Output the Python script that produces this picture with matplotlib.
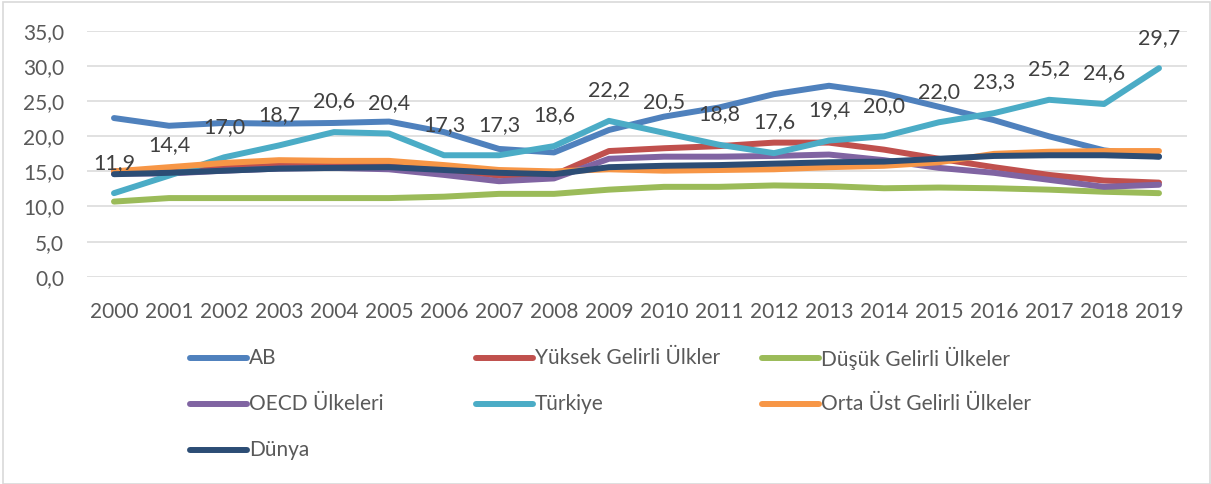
import matplotlib.pyplot as plt
from matplotlib.lines import Line2D
from matplotlib.patches import Rectangle

years = [str(y) for y in range(2000, 2020)]

ab = [22.6, 21.5, 21.9, 21.8, 21.9, 22.1, 20.6, 18.2, 17.7, 20.9,
      22.8, 24.1, 26.0, 27.2, 26.1, 24.2, 22.3, 20.0, 18.0, 17.1]
yuksek = [15.0, 15.3, 15.6, 15.8, 15.9, 15.9, 15.2, 14.4, 14.5, 17.9,
          18.3, 18.6, 19.1, 19.1, 18.1, 16.8, 15.6, 14.5, 13.7, 13.4]
dusuk = [10.7, 11.2, 11.2, 11.2, 11.2, 11.2, 11.4, 11.8, 11.8, 12.4,
         12.8, 12.8, 13.0, 12.9, 12.6, 12.7, 12.6, 12.4, 12.1, 11.9]
oecd = [14.7, 14.7, 15.1, 15.4, 15.5, 15.3, 14.5, 13.6, 14.0, 16.8,
        17.1, 17.1, 17.2, 17.4, 16.6, 15.5, 14.8, 13.8, 12.8, 13.1]
turkiye = [11.9, 14.4, 17.0, 18.7, 20.6, 20.4, 17.3, 17.3, 18.6, 22.2,
           20.5, 18.8, 17.6, 19.4, 20.0, 22.0, 23.3, 25.2, 24.6, 29.7]
orta = [15.0, 15.6, 16.2, 16.6, 16.5, 16.5, 15.9, 15.2, 15.0, 15.3,
        15.1, 15.2, 15.3, 15.6, 15.8, 16.3, 17.5, 17.8, 17.9, 17.9]
dunya = [14.6, 14.8, 15.1, 15.4, 15.5, 15.6, 15.2, 14.8, 14.6, 15.6,
         15.8, 15.9, 16.1, 16.3, 16.4, 16.8, 17.2, 17.3, 17.3, 17.1]

names = ["AB", "Yüksek Gelirli Ülkler", "Düşük Gelirli Ülkeler",
         "OECD Ülkeleri", "Türkiye", "Orta Üst Gelirli Ülkeler", "Dünya"]
series = [ab, yuksek, dusuk, oecd, turkiye, orta, dunya]
colors = ["#4F81BD", "#C0504D", "#9BBB59", "#8064A2", "#4BACC6", "#F79646", "#2C4D75"]

plt.rcParams['font.family'] = ['Lato', 'DejaVu Sans']

W, H = 1211, 484
fig = plt.figure(figsize=(W / 100, H / 100), dpi=100)
ax = fig.add_axes([86.5 / W, 1 - 276.7 / H, 1100 / W, 245.7 / H])

x = list(range(len(years)))
for name, vals, c in zip(names, series, colors):
    ax.plot(x, vals, color=c, lw=4.3, solid_capstyle='round', solid_joinstyle='round', label=name)

# data labels for Türkiye
for xi, v in zip(x, turkiye):
    ax.annotate(f"{v:.1f}".replace('.', ','), (xi, v), xytext=(0, 22),
                textcoords='offset points', ha='center', va='center',
                fontsize=15.5, color='#404040')

ax.set_xlim(-0.5, len(years) - 0.5)
ax.set_ylim(0, 35)
ax.set_yticks(range(0, 36, 5))
ax.set_yticklabels([f"{v},0" for v in range(0, 36, 5)])
ax.set_xticks(x)
ax.set_xticklabels(years)
ax.grid(axis='y', color='#D9D9D9', lw=1.1)
ax.set_axisbelow(True)
for s in ax.spines.values():
    s.set_visible(False)
ax.tick_params(length=0, labelsize=15, labelcolor='#595959')
ax.tick_params(axis='x', pad=18)
ax.tick_params(axis='y', pad=16)

# legend, laid out like the original (3 columns)
for i, (name, c) in enumerate(zip(names, colors)):
    col, row = i % 3, i // 3
    x0 = 190 + col * 286
    y0 = 358 + row * 46
    fig.add_artist(Line2D([x0 / W, (x0 + 57) / W], [1 - y0 / H, 1 - y0 / H],
                          color=c, lw=4.3, solid_capstyle='round'))
    fig.text((x0 + 59) / W, 1 - y0 / H, name, ha='left', va='center',
             fontsize=15, color='#595959')

fig.add_artist(Rectangle((3 / W, 0), 1 - 4 / W, 1 - 2 / H, transform=fig.transFigure,
                         fill=False, edgecolor='#D9D9D9', lw=1.2))

fig.savefig('out.png', dpi=100)
